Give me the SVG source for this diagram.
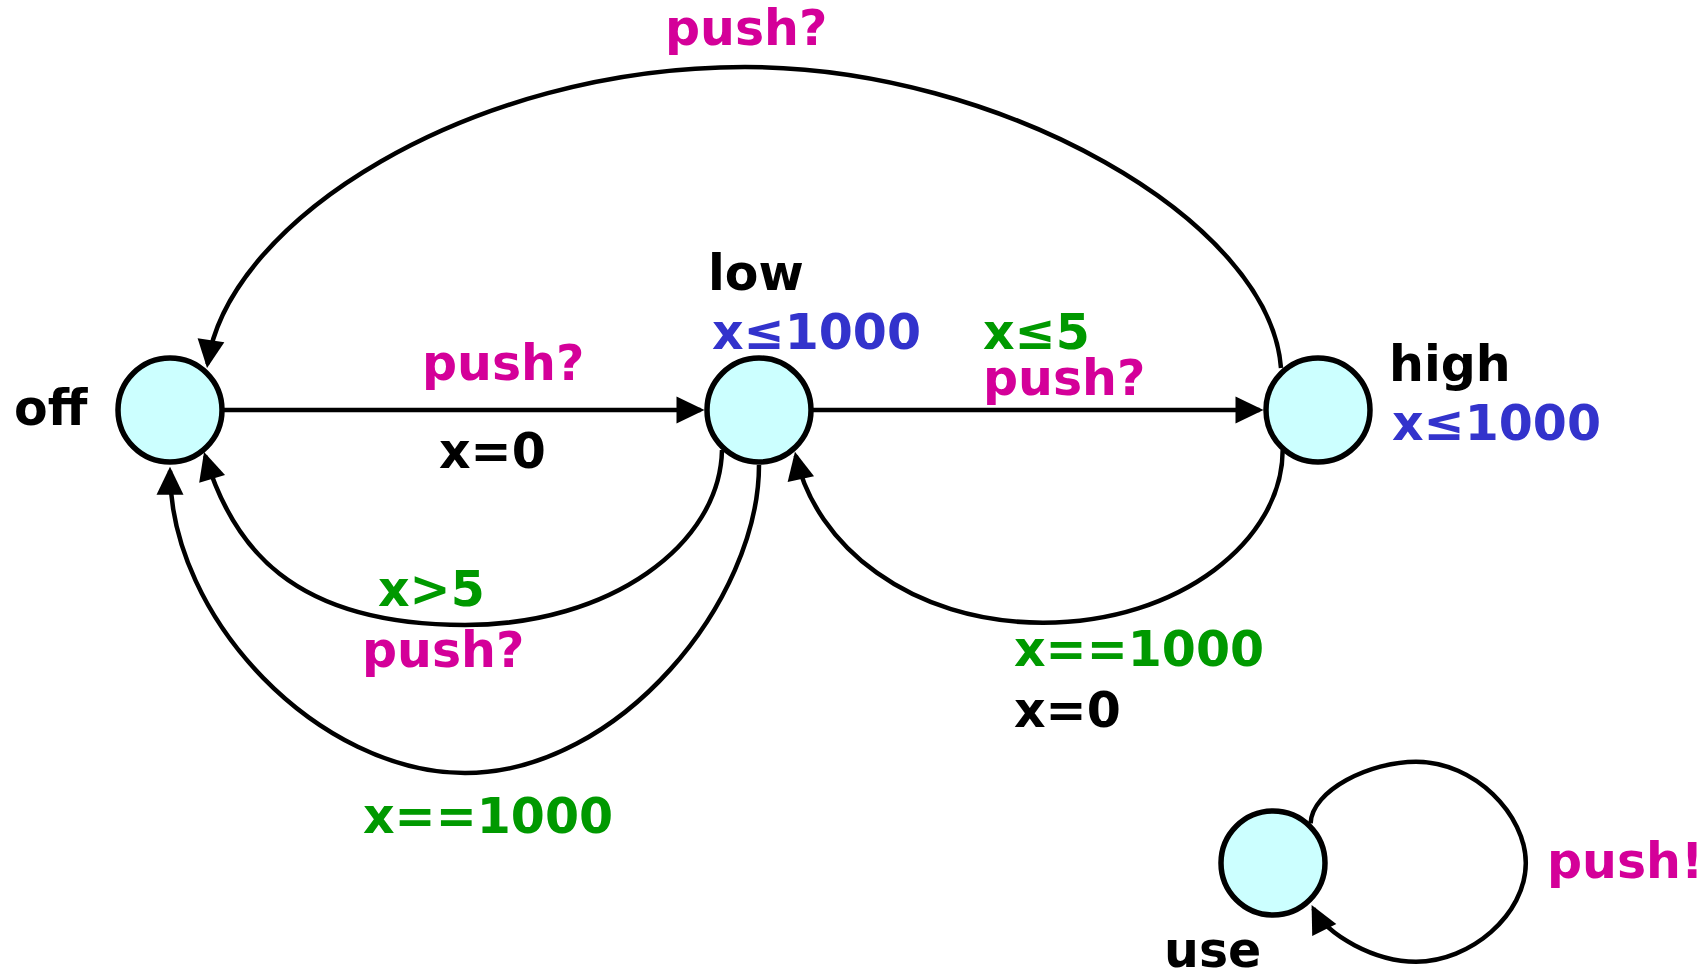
<svg xmlns="http://www.w3.org/2000/svg" width="1707" height="973" viewBox="0 0 1707 973">
<style>
.loc{fill:#ccffff;stroke:#000;stroke-width:5.5}
.edge{fill:none;stroke:#000;stroke-width:4.5;marker-end:url(#arr)}
text{font-family:"DejaVu Sans","Verdana",sans-serif;font-weight:bold;font-size:49px}
.name{fill:#000}
.inv{fill:#3333cc}
.guard{fill:#009900}
.sync{fill:#d40099}
.assign{fill:#000}
</style>
<defs>
<marker id="arr" markerUnits="userSpaceOnUse" markerWidth="29" markerHeight="28" refX="24" refY="13.5" orient="auto" overflow="visible">
<path d="M0,0 L28,13.5 L0,27 Z" fill="#000"/>
</marker>
</defs>
<rect width="1707" height="973" fill="#fff"/>
<g id="connectors">
<path class="edge" d="M1281,368 C1270,220 1000,67 745,67 C470,67 228,220 207.6,364"/>
<path class="edge" d="M222,410 L700.5,410"/>
<path class="edge" d="M811,410 L1259.5,410"/>
<path class="edge" d="M722,450 C720,545 610,625 465,625 C290,625 232,545 205.2,455.8"/>
<path class="edge" d="M759,465 C759,600 620,773 465,773 C320,773 170,620 170,470.7"/>
<path class="edge" d="M1282.7,450 C1282.7,540 1180,622.7 1043,622.7 C910,622.7 815,545 795.8,455.6"/>
<path class="edge" d="M1310.6,823.3 C1312,790 1370,761.7 1416,761.7 C1475,761.7 1525.8,815 1525.8,863 C1525.8,915 1470,961.7 1416,961.7 C1375,961.7 1327,935.4 1313.4,908.6"/>
</g>
<g id="edge-labels">
<text class="sync" x="665" y="45">push?</text>
<text class="sync" x="422" y="380">push?</text>
<text class="assign" x="439" y="468">x=0</text>
<text class="guard" x="983" y="349">x≤5</text>
<text class="sync" x="983" y="395">push?</text>
<text class="guard" x="378" y="606">x&gt;5</text>
<text class="sync" x="362" y="667">push?</text>
<text class="guard" x="363" y="833">x==1000</text>
<text class="guard" x="1014" y="666">x==1000</text>
<text class="assign" x="1014" y="727">x=0</text>
<text class="sync" x="1547" y="878">push!</text>
</g>
<g id="off">
<circle class="loc" cx="170" cy="410" r="52"/>
<text class="name" x="14" y="425">off</text>
</g>
<g id="low">
<circle class="loc" cx="759" cy="410" r="52"/>
<text class="name" x="708" y="290">low</text>
<text class="inv" x="712" y="349">x≤1000</text>
</g>
<g id="high">
<circle class="loc" cx="1318" cy="410" r="52"/>
<text class="name" x="1389" y="381">high</text>
<text class="inv" x="1392" y="440">x≤1000</text>
</g>
<g id="use">
<circle class="loc" cx="1273" cy="863" r="52"/>
<text class="name" x="1164" y="967">use</text>
</g>
</svg>
